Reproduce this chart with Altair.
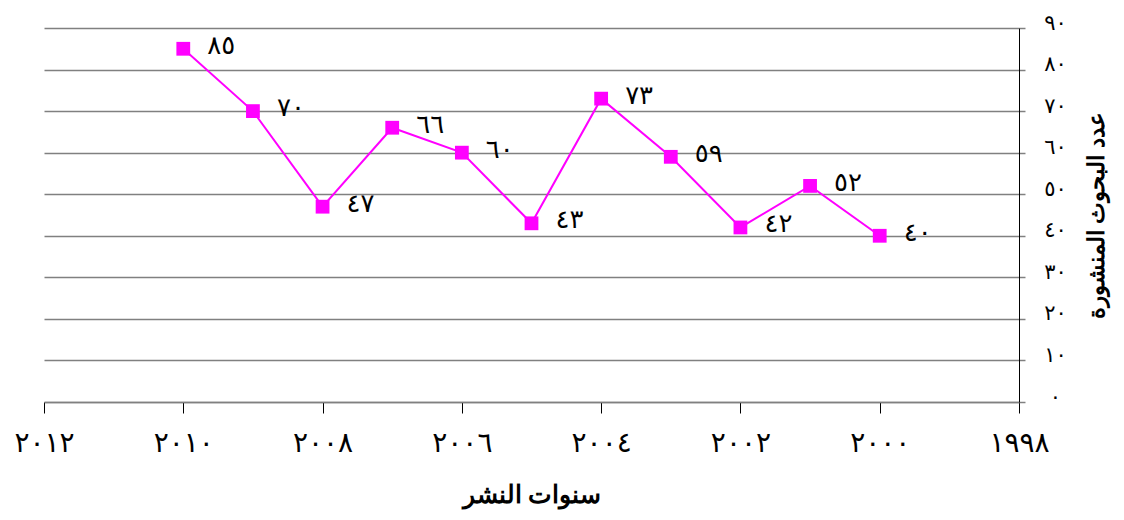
import altair as alt
import pandas as pd

# Data
years = [2010, 2009, 2008, 2007, 2006, 2005, 2004, 2003, 2002, 2001, 2000]
counts = [85, 70, 47, 66, 60, 43, 73, 59, 42, 52, 40]
count_labels = ["٨٥", "٧٠", "٤٧", "٦٦", "٦٠", "٤٣", "٧٣", "٥٩", "٤٢", "٥٢", "٤٠"]

x_tick_values = [2012, 2010, 2008, 2006, 2004, 2002, 2000, 1998]
x_tick_labels = ["٢٠١٢", "٢٠١٠", "٢٠٠٨", "٢٠٠٦", "٢٠٠٤", "٢٠٠٢", "٢٠٠٠", "١٩٩٨"]
y_tick_values = [0, 10, 20, 30, 40, 50, 60, 70, 80, 90]
y_tick_labels = ["٠", "١٠", "٢٠", "٣٠", "٤٠", "٥٠", "٦٠", "٧٠", "٨٠", "٩٠"]

x_title = "سنوات النشر"
y_title = "عدد البحوث المنشورة"

df = pd.DataFrame({"year": years, "count": counts, "label": count_labels})


def label_expr(values, labels):
    expr = "''"
    for v, l in reversed(list(zip(values, labels))):
        expr = f"datum.value == {v} ? '{l}' : ({expr})"
    return expr


FONT = "DejaVu Sans"

x_enc = alt.X(
    "year:Q",
    scale=alt.Scale(domain=[1998, 2012], reverse=True, nice=False, zero=False),
    axis=alt.Axis(
        values=x_tick_values,
        labelExpr=label_expr(x_tick_values, x_tick_labels),
        labelFlush=False,
        labelOverlap=False,
        labelBound=False,
        title=x_title,
        grid=False,
        domainColor="#808080",
        domainWidth=1.5,
        tickColor="#000000",
        tickSize=11,
        tickWidth=1,
        labelPadding=16,
        labelFontSize=28,
        labelFont=FONT,
        labelColor="#000000",
        titleFont="Liberation Sans",
        titleFontSize=25,
        titleFontWeight="bold",
        titleColor="#000000",
        titlePadding=25,
    ),
)

y_enc = alt.Y(
    "count:Q",
    scale=alt.Scale(domain=[0, 90], nice=False),
    axis=alt.Axis(
        orient="right",
        values=y_tick_values,
        labelExpr=label_expr(y_tick_values, y_tick_labels),
        labelFlush=False,
        labelOverlap=False,
        labelOffset=-5,
        title=y_title,
        titleAngle=270,
        grid=True,
        gridColor="#808080",
        gridWidth=1.5,
        domainColor="#000000",
        domainWidth=1,
        tickColor="#808080",
        tickSize=6,
        tickWidth=1.5,
        labelAlign="center",
        labelPadding=30,
        labelFontSize=21,
        labelFont=FONT,
        labelColor="#000000",
        titleFont="Liberation Sans",
        titleFontSize=23,
        titleFontWeight="bold",
        titleColor="#000000",
        titlePadding=42,
    ),
)

base = alt.Chart(df).encode(x=x_enc, y=y_enc)

line = base.mark_line(color="#FF00FF", strokeWidth=2)
points = base.mark_point(shape="square", filled=True, size=190, color="#FF00FF", opacity=1)
texts = base.mark_text(align="left", baseline="middle", dx=24, dy=-3, fontSize=26, font=FONT, color="#000000").encode(
    text="label:N"
)

chart = (
    alt.layer(line, points, texts)
    .properties(
        width=975,
        height=374,
        autosize=alt.AutoSizeParams(type="none"),
        padding={"left": 36, "top": 20, "right": 97, "bottom": 110},
        background="white",
    )
    .configure_view(stroke=None)
)

chart.save("out.html", embed_options={"renderer": "svg", "actions": False})
